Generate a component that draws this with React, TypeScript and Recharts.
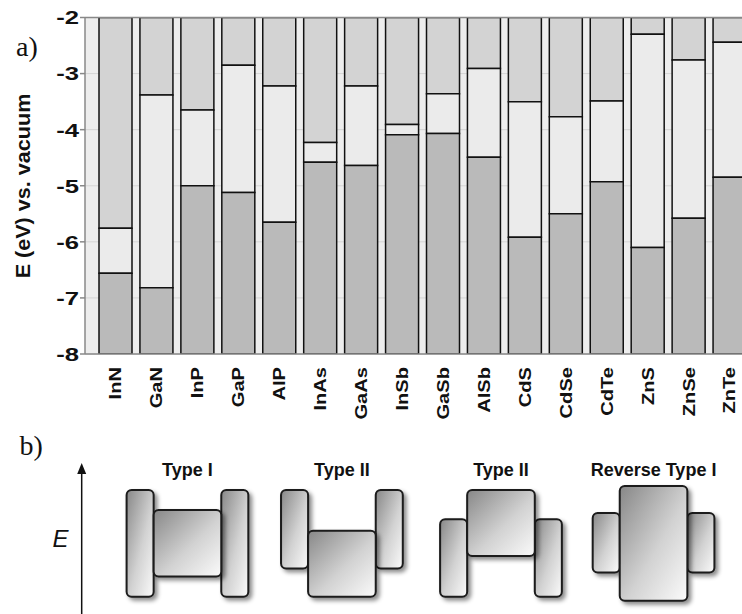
import React from 'react';
import {
  BarChart,
  Bar,
  XAxis,
  YAxis,
  CartesianGrid,
  ReferenceLine,
  ReferenceArea,
  ReferenceDot,
  ComposedChart,
} from 'recharts';

// ---------- Part a) data ----------
const materials = ['InN', 'GaN', 'InP', 'GaP', 'AlP', 'InAs', 'GaAs', 'InSb', 'GaSb', 'AlSb', 'CdS', 'CdSe', 'CdTe', 'ZnS', 'ZnSe', 'ZnTe'];
// conduction band edge (eV vs. vacuum)
const cbEdge = [-5.76, -3.38, -3.65, -2.85, -3.22, -4.23, -3.22, -3.91, -3.36, -2.91, -3.5, -3.77, -3.49, -2.3, -2.76, -2.44];
// valence band edge (eV vs. vacuum)
const vbEdge = [-6.56, -6.82, -5.0, -5.12, -5.65, -4.58, -4.64, -4.09, -4.07, -4.49, -5.92, -5.5, -4.93, -6.1, -5.58, -4.85];
const yTicks = [-8, -7, -6, -5, -4, -3, -2];
const Y_MIN = -8;
const Y_MAX = -2;

// ---------- Part b) schematic data (arbitrary energy units) ----------
const diagramTitles = ['Type I', 'Type II', 'Type II', 'Reverse Type I'];
const diagramStart = [4.68, 10.39, 16.27, 21.91];
const leftBand = [[0.35, 9.65], [2.8, 9.65], [0.35, 7.1], [2.45, 7.65]];
const middleBand = [[2.1, 7.9], [0.35, 6.1], [3.9, 9.65], [0, 10]];
const rightBand = [[0.35, 9.65], [2.8, 9.65], [0.35, 7.1], [2.45, 7.65]];
const B_X_SPAN = 27.43;
const B_Y_MIN = -1.16;
const B_Y_MAX = 14.88;
const TITLE_LEVEL = 11.4;
const ARROW_X = 3.02;
const ARROW_TIP = 12.0;

const data = materials.map((name, i) => ({
  name,
  cb: cbEdge[i],
  gap: vbEdge[i] - cbEdge[i],
  vb: Y_MIN - vbEdge[i],
}));

const FONT = '"Liberation Sans", Arial, Helvetica, sans-serif';
const SERIF = '"Liberation Serif", "DejaVu Serif", serif';

function YTick(props: any) {
  const { x, y, payload } = props;
  return (
    <g transform={`translate(${x},${y})`}>
      <text transform="scale(1.35,1)" textAnchor="end" dy="0.36em" fontSize={19} fontWeight={700} fill="#111" fontFamily={FONT}>
        {payload.value}
      </text>
    </g>
  );
}

function XTick(props: any) {
  const { x, payload } = props;
  return (
    <g transform={`translate(${x},${367})`}>
      <text transform="rotate(-90) scale(1.22,1)" textAnchor="end" dy="0.36em" fontSize={16.5} fontWeight={700} fill="#111" fontFamily={FONT}>
        {payload.value}
      </text>
    </g>
  );
}

const boxShape = (p: any) => (
  <rect
    x={p.x}
    y={p.y}
    width={p.width}
    height={p.height}
    rx={5}
    ry={5}
    fill="url(#boxGrad)"
    stroke="#1a1a1a"
    strokeWidth={2}
    filter="url(#boxShadow)"
  />
);

const NARROW = 1;
const WIDE = 2.5;

export default function App() {
  return (
    <div style={{ position: 'absolute', left: 0, top: 0, width: 742, height: 614, overflow: 'hidden', background: '#fff' }}>
      <div style={{ position: 'absolute', left: 0, top: 0 }}>
        <BarChart width={750} height={430} data={data} margin={{ top: 17.5, right: 0, bottom: 10, left: 0 }} barSize={33}>
          <CartesianGrid vertical={false} stroke="#d4d4d4" fill="#ededed" />
          <XAxis
            dataKey="name"
            padding={{ left: 10, right: 0 }}
            axisLine={{ stroke: '#888', strokeWidth: 1.5 }}
            tickLine={false}
            height={66}
            interval={0}
            tick={XTick}
          />
          <YAxis
            type="number"
            domain={[Y_MIN, Y_MAX]}
            ticks={yTicks}
            allowDataOverflow
            width={85}
            interval={0}
            axisLine={{ stroke: '#888', strokeWidth: 1.5 }}
            tickLine={{ stroke: '#888', strokeWidth: 1.5 }}
            tickSize={5}
            tickMargin={1}
            tick={YTick}
          />
          <Bar dataKey="cb" stackId="e" fill="#d3d3d3" stroke="#111" strokeWidth={1.5} isAnimationActive={false} />
          <Bar dataKey="gap" stackId="e" fill="#ebebeb" stroke="#111" strokeWidth={1.5} isAnimationActive={false} />
          <Bar dataKey="vb" stackId="e" fill="#bababa" stroke="#111" strokeWidth={1.5} isAnimationActive={false} />
          <ReferenceLine y={Y_MAX} stroke="#888" strokeWidth={1.5} />
          <text x={16} y={56} fontFamily={SERIF} fontSize={28} fill="#111">a)</text>
          <g transform="translate(23,186) rotate(-90)">
            <text textAnchor="middle" dy="0.36em" fontSize={20} fontWeight={700} fill="#111" fontFamily={FONT} transform="scale(1.08,1)">
              E (eV) vs. vacuum
            </text>
          </g>
          <g transform="translate(114,124)">
            <text textAnchor="middle" dy="0.36em" fontSize={16} fontWeight={700} fill="#111" fontFamily={FONT} transform="scale(1.2,1)">CB</text>
          </g>
          <g transform="translate(115,321)">
            <text textAnchor="middle" dy="0.36em" fontSize={16} fontWeight={700} fill="#111" fontFamily={FONT} transform="scale(1.2,1)">VB</text>
          </g>
        </BarChart>
      </div>
      <div style={{ position: 'absolute', left: 0, top: 430 }}>
        <ComposedChart width={742} height={184} margin={{ top: 0, right: 0, bottom: 0, left: 0 }}>
          <defs>
            <linearGradient id="boxGrad" x1="0" y1="0" x2="1" y2="1">
              <stop offset="0" stopColor="#878787" />
              <stop offset="0.55" stopColor="#d2d2d2" />
              <stop offset="1" stopColor="#fbfbfb" />
            </linearGradient>
            <filter id="boxShadow" x="-30%" y="-30%" width="170%" height="170%">
              <feDropShadow dx="3" dy="3" stdDeviation="2" floodColor="#000" floodOpacity="0.45" />
            </filter>
          </defs>
          <XAxis type="number" dataKey="x" domain={[0, B_X_SPAN]} hide allowDataOverflow />
          <YAxis type="number" domain={[B_Y_MIN, B_Y_MAX]} hide allowDataOverflow />
          <ReferenceLine
            segment={[{ x: ARROW_X, y: B_Y_MIN }, { x: ARROW_X, y: ARROW_TIP - 0.6 }]}
            stroke="#111"
            strokeWidth={1.5}
          />
          <ReferenceDot
            x={ARROW_X}
            y={ARROW_TIP}
            r={1}
            shape={(p: any) => <path d={`M${p.cx},${p.cy} l-4.5,11 l9,0 z`} fill="#111" />}
          />
          <ReferenceDot
            x={2.24}
            y={5.38}
            r={0}
            fill="none"
            stroke="none"
            label={{ value: 'E', position: 'center', fontSize: 24, fontStyle: 'italic', fill: '#111', fontFamily: FONT }}
          />
          <ReferenceDot
            x={1.15}
            y={13.56}
            r={0}
            fill="none"
            stroke="none"
            label={{ value: 'b)', position: 'center', fontSize: 28, fill: '#111', fontFamily: SERIF }}
          />
          {diagramTitles.map((t, i) => (
            <ReferenceDot
              key={`t${i}`}
              x={diagramStart[i] + (NARROW * 2 + WIDE) / 2}
              y={TITLE_LEVEL}
              r={0}
              fill="none"
              stroke="none"
              label={{ value: t, position: 'center', fontSize: 18, fontWeight: 700, fill: '#111', fontFamily: FONT }}
            />
          ))}
          {diagramStart.map((s, i) => (
            <ReferenceArea
              key={`l${i}`}
              x1={s}
              x2={s + NARROW}
              y1={leftBand[i][0]}
              y2={leftBand[i][1]}
              shape={boxShape}
            />
          ))}
          {diagramStart.map((s, i) => (
            <ReferenceArea
              key={`r${i}`}
              x1={s + NARROW + WIDE}
              x2={s + NARROW * 2 + WIDE}
              y1={rightBand[i][0]}
              y2={rightBand[i][1]}
              shape={boxShape}
            />
          ))}
          {diagramStart.map((s, i) => (
            <ReferenceArea
              key={`m${i}`}
              x1={s + NARROW}
              x2={s + NARROW + WIDE}
              y1={middleBand[i][0]}
              y2={middleBand[i][1]}
              shape={boxShape}
            />
          ))}
        </ComposedChart>
      </div>
    </div>
  );
}
